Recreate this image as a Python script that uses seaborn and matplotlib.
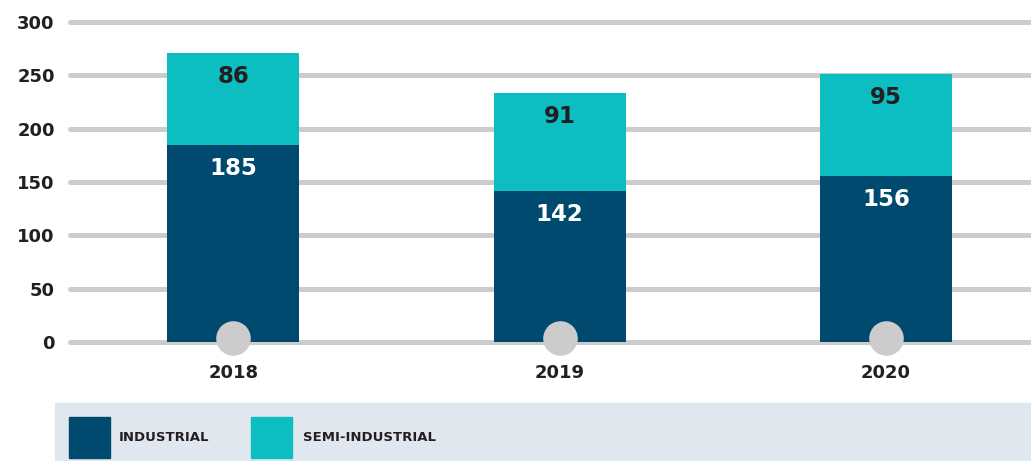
import matplotlib.pyplot as plt
import matplotlib.patches as mpatches
import numpy as np
import pandas as pd
import seaborn as sns

# data
years = ["2018", "2019", "2020"]
industrial = [185, 142, 156]
semi_industrial = [86, 91, 95]
y_ticks = [0, 50, 100, 150, 200, 250, 300]
series_names = ["INDUSTRIAL", "SEMI-INDUSTRIAL"]

DARK = "#004A70"
TEAL = "#0CBDC1"
GRID = "#CCCCCC"
TXT = "#231F20"

sns.set_style("white")
plt.rcParams["font.family"] = ["DejaVu Sans"]

df = pd.DataFrame({
    "year": years,
    "industrial": industrial,
    "semi": semi_industrial,
})
df["total"] = df["industrial"] + df["semi"]

fig = plt.figure(figsize=(10.31, 4.61), dpi=100)
ax = fig.add_axes([70 / 1031, 119 / 461, 961 / 1031, 320 / 461])

# stacked bars: total (teal) under industrial (dark)
sns.barplot(data=df, x="year", y="total", color=TEAL, width=0.405,
            saturation=1, linewidth=0, ax=ax, zorder=2)
sns.barplot(data=df, x="year", y="industrial", color=DARK, width=0.405,
            saturation=1, linewidth=0, ax=ax, zorder=3)

# gridlines
for t in y_ticks:
    ax.axhline(t, color=GRID, lw=3.6, zorder=1, clip_on=False)

# labels inside segments
for i, row in df.iterrows():
    ax.text(i, row["industrial"] - 22, str(row["industrial"]), ha="center",
            va="center", color="white", fontsize=16.5, fontweight="bold", zorder=5)
    ax.text(i, row["total"] - 22, str(row["semi"]), ha="center",
            va="center", color=TXT, fontsize=16.5, fontweight="bold", zorder=5)

# circle markers at base of bars
ax.scatter(range(len(years)), [3.5] * len(years), s=620, color=GRID,
           zorder=4, clip_on=False, linewidths=0)

ax.set_xlim(-0.5, 2.444)
ax.set_ylim(0, 300)
ax.set_yticks(y_ticks)
ax.set_xlabel("")
ax.set_ylabel("")
sns.despine(ax=ax, left=True, bottom=True)
ax.tick_params(axis="y", length=0, pad=11, labelsize=13, labelcolor=TXT)
ax.tick_params(axis="x", length=0, pad=16, labelsize=13, labelcolor=TXT)
for lab in ax.get_xticklabels() + ax.get_yticklabels():
    lab.set_fontweight("bold")

# legend panel
W, H = 1031, 461
fig.add_artist(mpatches.Rectangle((55 / W, 0), 1 - 55 / W, 58 / H,
                                  transform=fig.transFigure,
                                  color="#E1E7EE", zorder=0))
for x0, tx, name, c in [(69, 119, series_names[0], DARK),
                        (251, 303, series_names[1], TEAL)]:
    fig.add_artist(mpatches.Rectangle((x0 / W, 3 / H), 41 / W, 41 / H,
                                      transform=fig.transFigure, color=c))
    fig.text(tx / W, 23.5 / H, name, ha="left", va="center", fontsize=9.5,
             fontweight="bold", color=TXT)

fig.savefig("out.png", dpi=100)
